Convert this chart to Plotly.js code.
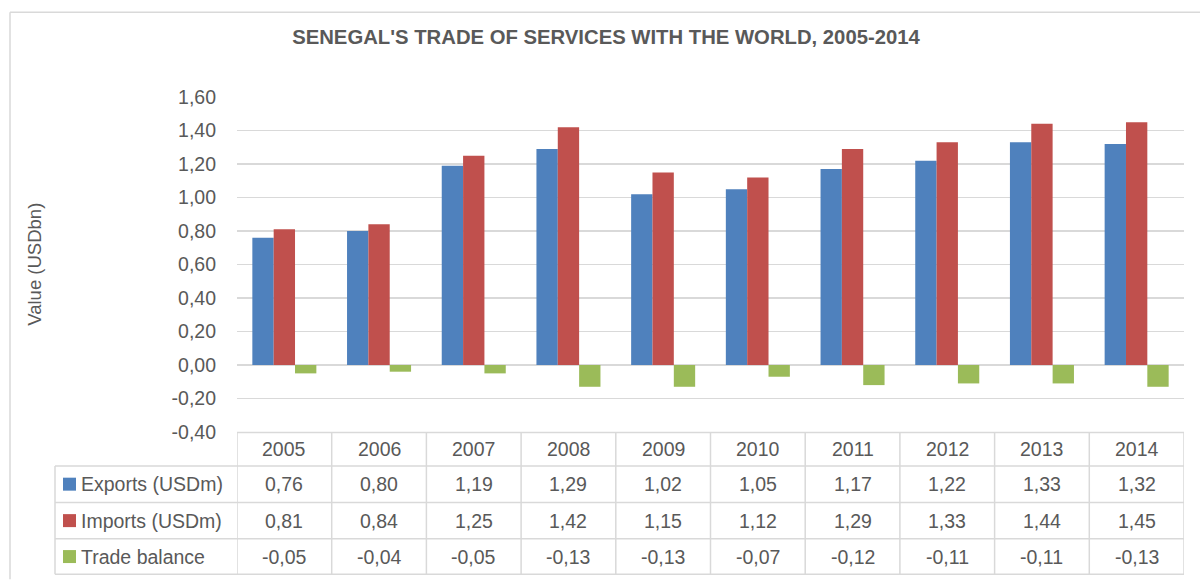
<!DOCTYPE html>
<html><head><meta charset="utf-8">
<script src="https://cdn.plot.ly/plotly-3.0.1.min.js"></script>
<style>html,body{margin:0;padding:0;background:#fff}#chart{width:1200px;height:580px}</style>
</head><body><div id="chart"></div>
<script>
const years = ['2005','2006','2007','2008','2009','2010','2011','2012','2013','2014'];
const exportsVals = [0.76,0.80,1.19,1.29,1.02,1.05,1.17,1.22,1.33,1.32];
const importsVals = [0.81,0.84,1.25,1.42,1.15,1.12,1.29,1.33,1.44,1.45];
const balanceVals = [-0.05,-0.04,-0.05,-0.13,-0.13,-0.07,-0.12,-0.11,-0.11,-0.13];
const seriesNames = ['Exports (USDm)','Imports (USDm)','Trade balance'];
const seriesColors = ['#4F81BD','#C0504D','#9BBB59'];
const yTickVals = [-0.4,-0.2,0,0.2,0.4,0.6,0.8,1.0,1.2,1.4,1.6];
const chartTitle = "SENEGAL'S TRADE OF SERVICES WITH THE WORLD, 2005-2014";
const yTitle = 'Value (USDbn)';

const FONT = '"Liberation Sans Narrow","Arial Narrow","Liberation Sans",Arial,sans-serif';
const TXT = '#595959';
const LINE = '#D9D9D9';
const FS = 19.5;

// plot area in pixels
const L = 237, R = 1184, T = 97, B = 432.5;
const W = R - L, H = B - T;
const px = x => (x - L) / W;
const py = y => (B - y) / H;

const seriesVals = [exportsVals, importsVals, balanceVals];
const traces = seriesVals.map((vals, k) => ({
  type: 'bar', x: years, y: vals, name: seriesNames[k],
  marker: {color: seriesColors[k]}, showlegend: false, hoverinfo: 'x+y'
}));

const fmt = v => v.toFixed(2).replace('.', ',');

// table geometry (pixels)
const rowEdges = [433, 466.5, 503, 539.5, 575];
const labelLeft = 55;
const shapes = [];
// outer chart border (left & top)
shapes.push({type:'line', xref:'paper', yref:'paper', x0:px(10), x1:px(10), y0:py(12), y1:py(580), line:{color:LINE, width:1.5}});
shapes.push({type:'line', xref:'paper', yref:'paper', x0:px(10), x1:px(1200), y0:py(12), y1:py(12), line:{color:LINE, width:1.5}});
// horizontal table lines
rowEdges.forEach((y, i) => {
  shapes.push({type:'line', xref:'paper', yref:'paper', x0: i === 0 ? px(L) : px(labelLeft), x1: px(R), y0: py(y), y1: py(y), line:{color:LINE, width:1.5}});
});
// vertical table lines (category boundaries)
for (let k = 0; k <= years.length; k++) {
  shapes.push({type:'line', xref:'x', yref:'paper', x0: k - 0.5, x1: k - 0.5, y0: py(rowEdges[0]), y1: py(rowEdges[4]), line:{color:LINE, width:1.5}});
}
shapes.push({type:'line', xref:'paper', yref:'paper', x0: px(labelLeft), x1: px(labelLeft), y0: py(rowEdges[1]), y1: py(rowEdges[4]), line:{color:LINE, width:1.5}});

const annotations = [];
const rowCenter = i => py((rowEdges[i] + rowEdges[i+1]) / 2);
years.forEach((yr, i) => {
  annotations.push({xref:'x', yref:'paper', x: i, y: rowCenter(0), text: yr, showarrow:false, font:{family:FONT, size:FS, color:TXT}, xanchor:'center', yanchor:'middle'});
  seriesVals.forEach((vals, k) => {
    annotations.push({xref:'x', yref:'paper', x: i, y: rowCenter(k+1), text: fmt(vals[i]), showarrow:false, font:{family:FONT, size:FS, color:TXT}, xanchor:'center', yanchor:'middle'});
  });
});
seriesNames.forEach((nm, k) => {
  const yc = (rowEdges[k+1] + rowEdges[k+2]) / 2;
  shapes.push({type:'rect', xref:'paper', yref:'paper', x0: px(63), x1: px(76), y0: py(yc + 6.5), y1: py(yc - 6.5), fillcolor: seriesColors[k], line:{width:0}});
  annotations.push({xref:'paper', yref:'paper', x: px(79), y: rowCenter(k+1), text: nm, showarrow:false, font:{family:FONT, size:FS, color:TXT}, xanchor:'left', yanchor:'middle'});
});
// y axis title
annotations.push({xref:'paper', yref:'paper', x: px(35), y: py(265), text: yTitle, textangle: -90, showarrow:false, font:{family:FONT, size:18.5, color:TXT}, xanchor:'center', yanchor:'middle'});

const layout = {
  width: 1200, height: 580,
  margin: {l: L, r: 1200 - R, t: T, b: 580 - B, pad: 0},
  paper_bgcolor: '#fff', plot_bgcolor: '#fff',
  separators: ',.',
  title: {text: '<b>' + chartTitle + '</b>', x: 606/1200, xanchor: 'center', xref: 'container', y: 1 - 37/580, yanchor: 'middle', yref: 'container',
          font: {family: FONT, size: 20.3, color: TXT}},
  barmode: 'group', bargap: 0.324, bargroupgap: 0,
  xaxis: {type: 'category', range: [-0.5, 9.5], showticklabels: false, showgrid: false, zeroline: false, showline: false, ticks: '', fixedrange: true},
  yaxis: {range: [-0.4, 1.6], tickmode: 'array', tickvals: yTickVals, ticktext: yTickVals.map(fmt), showgrid: true, gridcolor: LINE, gridwidth: 1.5,
          zeroline: true, zerolinecolor: LINE, zerolinewidth: 1.5, showline: false, ticks: '', ticklabelstandoff: 20,
          tickfont: {family: FONT, size: FS, color: TXT}, fixedrange: true},
  shapes: shapes, annotations: annotations,
  font: {family: FONT, color: TXT}
};
Plotly.newPlot('chart', traces, layout, {displayModeBar: false, staticPlot: true});
</script></body></html>
